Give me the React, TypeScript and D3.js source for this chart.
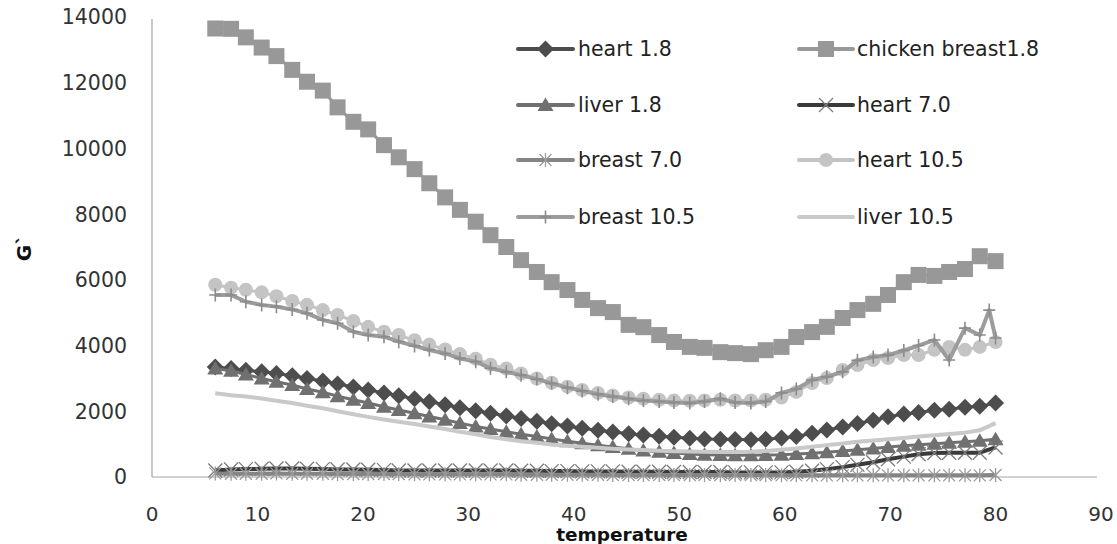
import React from 'react';
import * as d3 from 'd3';

const temperature = [6.0, 7.5, 8.9, 10.4, 11.8, 13.3, 14.7, 16.2, 17.6, 19.1, 20.5, 22.0, 23.4, 24.9, 26.3, 27.8, 29.2, 30.7, 32.1, 33.6, 35.0, 36.5, 37.9, 39.4, 40.8, 42.3, 43.7, 45.2, 46.6, 48.1, 49.5, 51.0, 52.4, 53.9, 55.3, 56.8, 58.2, 59.7, 61.1, 62.6, 64.0, 65.5, 66.9, 68.4, 69.8, 71.3, 72.7, 74.2, 75.6, 77.1, 78.5, 80.0];
const temperatureBreast105 = [6.0, 7.5, 8.9, 10.4, 11.8, 13.3, 14.7, 16.2, 17.6, 19.1, 20.5, 22.0, 23.4, 24.9, 26.3, 27.8, 29.2, 30.7, 32.1, 33.6, 35.0, 36.5, 37.9, 39.4, 40.8, 42.3, 43.7, 45.2, 46.6, 48.1, 49.5, 51.0, 52.4, 53.9, 55.3, 56.8, 58.2, 59.7, 61.1, 62.6, 64.0, 65.5, 66.9, 68.4, 69.8, 71.3, 72.7, 74.2, 75.6, 77.1, 78.5, 79.4, 80.0];

const heart18 = [3350, 3300, 3250, 3200, 3150, 3080, 3000, 2920, 2830, 2740, 2650, 2560, 2470, 2380, 2290, 2200, 2110, 2020, 1940, 1860, 1780, 1700, 1620, 1550, 1480, 1420, 1370, 1320, 1280, 1240, 1210, 1180, 1160, 1150, 1140, 1130, 1150, 1190, 1230, 1330, 1430, 1520, 1630, 1730, 1830, 1920, 1960, 2030, 2060, 2120, 2150, 2250];
const chickenBreast18 = [13650, 13640, 13380, 13070, 12810, 12390, 12030, 11760, 11250, 10810, 10580, 10100, 9730, 9370, 8940, 8510, 8130, 7770, 7360, 7000, 6600, 6240, 5930, 5690, 5390, 5140, 5020, 4630, 4560, 4320, 4110, 3960, 3930, 3800, 3770, 3740, 3860, 3960, 4260, 4410, 4570, 4840, 5080, 5270, 5540, 5930, 6150, 6120, 6240, 6330, 6720, 6570];
const liver18 = [3300, 3230, 3120, 3000, 2900, 2800, 2680, 2580, 2460, 2350, 2250, 2140, 2040, 1940, 1840, 1740, 1640, 1540, 1460, 1380, 1300, 1230, 1160, 1090, 1030, 970, 910, 860, 810, 770, 730, 700, 680, 670, 660, 660, 670, 680, 700, 720, 750, 790, 830, 870, 910, 950, 980, 1010, 1040, 1070, 1100, 1150];
const heart70 = [200, 230, 240, 250, 260, 260, 250, 240, 230, 230, 220, 210, 200, 200, 200, 200, 200, 200, 200, 200, 190, 190, 180, 180, 170, 170, 170, 160, 160, 160, 150, 150, 150, 150, 140, 140, 140, 140, 160, 190, 240, 300, 370, 450, 540, 620, 690, 730, 740, 740, 740, 900];
const breast70 = [110, 100, 100, 100, 110, 100, 100, 100, 90, 90, 90, 90, 90, 80, 80, 80, 80, 80, 80, 80, 70, 70, 70, 70, 70, 70, 60, 60, 60, 60, 60, 60, 60, 60, 60, 60, 60, 50, 50, 50, 50, 50, 50, 50, 50, 50, 50, 50, 50, 50, 50, 60];
const heart105 = [5850, 5760, 5700, 5620, 5500, 5360, 5240, 5080, 4930, 4750, 4570, 4420, 4320, 4160, 4030, 3880, 3740, 3600, 3420, 3300, 3150, 3000, 2870, 2750, 2650, 2560, 2480, 2420, 2380, 2350, 2330, 2320, 2330, 2350, 2330, 2330, 2350, 2420, 2590, 2860, 3010, 3260, 3410, 3560, 3620, 3710, 3710, 3870, 3960, 3870, 3960, 4110];
const breast105 = [5540, 5540, 5335, 5235, 5185, 5100, 4980, 4780, 4680, 4420, 4320, 4270, 4120, 3990, 3865, 3760, 3610, 3510, 3310, 3200, 3100, 2980, 2850, 2720, 2620, 2520, 2450, 2380, 2330, 2300, 2270, 2250, 2300, 2380, 2270, 2250, 2300, 2560, 2680, 2950, 3050, 3200, 3550, 3650, 3710, 3850, 4000, 4170, 3560, 4530, 4320, 5080, 4230];
const liver105 = [2550, 2490, 2450, 2390, 2320, 2250, 2170, 2090, 2000, 1910, 1830, 1750, 1680, 1610, 1540, 1460, 1380, 1300, 1220, 1150, 1090, 1040, 990, 950, 920, 890, 860, 840, 820, 800, 785, 775, 765, 760, 760, 770, 790, 830, 870, 920, 970, 1020, 1070, 1110, 1150, 1190, 1230, 1270, 1310, 1350, 1420, 1640];

const xTicks = [0, 10, 20, 30, 40, 50, 60, 70, 80, 90];
const yTicks = [0, 2000, 4000, 6000, 8000, 10000, 12000, 14000];

type MarkerKind = 'diamond' | 'square' | 'triangle' | 'x' | 'star' | 'circle' | 'plus' | 'none';

interface Series {
  name: string;
  temps: number[];
  values: number[];
  line: string;
  lineWidth: number;
  marker: MarkerKind;
  markerColor: string;
}

const series: Series[] = [
  { name: 'heart 1.8', temps: temperature, values: heart18, line: '#4d4d4d', lineWidth: 3, marker: 'diamond', markerColor: '#4d4d4d' },
  { name: 'chicken breast1.8', temps: temperature, values: chickenBreast18, line: '#989898', lineWidth: 3, marker: 'square', markerColor: '#989898' },
  { name: 'liver 1.8', temps: temperature, values: liver18, line: '#707070', lineWidth: 3, marker: 'triangle', markerColor: '#707070' },
  { name: 'heart 7.0', temps: temperature, values: heart70, line: '#3a3a3a', lineWidth: 4, marker: 'x', markerColor: '#7c7c7c' },
  { name: 'breast 7.0', temps: temperature, values: breast70, line: '#858585', lineWidth: 4, marker: 'star', markerColor: '#9a9a9a' },
  { name: 'heart 10.5', temps: temperature, values: heart105, line: '#c4c4c4', lineWidth: 3, marker: 'circle', markerColor: '#c4c4c4' },
  { name: 'breast 10.5', temps: temperatureBreast105, values: breast105, line: '#9c9c9c', lineWidth: 4, marker: 'plus', markerColor: '#8c8c8c' },
  { name: 'liver 10.5', temps: temperature, values: liver105, line: '#c9c9c9', lineWidth: 4, marker: 'none', markerColor: '#c9c9c9' },
];

const x = d3.scaleLinear().domain([0, 90]).range([152, 1101]);
const y = d3.scaleLinear().domain([0, 14000]).range([477, 17]);

const FONT = 'DejaVu Sans, Verdana, sans-serif';

function Marker({ kind, cx, cy, color }: { kind: MarkerKind; cx: number; cy: number; color: string }) {
  switch (kind) {
    case 'diamond':
      return <path d={`M${cx},${cy - 8.5}L${cx + 8.5},${cy}L${cx},${cy + 8.5}L${cx - 8.5},${cy}Z`} fill={color} />;
    case 'square':
      return <rect x={cx - 8} y={cy - 8} width={16} height={16} fill={color} />;
    case 'triangle':
      return <path d={`M${cx},${cy - 7.5}L${cx + 8},${cy + 6}L${cx - 8},${cy + 6}Z`} fill={color} />;
    case 'circle':
      return <circle cx={cx} cy={cy} r={7} fill={color} />;
    case 'x':
      return (
        <path d={`M${cx - 7},${cy - 7}L${cx + 7},${cy + 7}M${cx - 7},${cy + 7}L${cx + 7},${cy - 7}`} stroke={color} strokeWidth={1.3} fill="none" />
      );
    case 'star':
      return (
        <path d={`M${cx - 6},${cy - 6}L${cx + 6},${cy + 6}M${cx - 6},${cy + 6}L${cx + 6},${cy - 6}M${cx},${cy - 7}L${cx},${cy + 7}`} stroke={color} strokeWidth={1.3} fill="none" />
      );
    case 'plus':
      return (
        <path d={`M${cx},${cy - 6.5}L${cx},${cy + 6.5}M${cx - 6},${cy}L${cx + 6},${cy}`} stroke={color} strokeWidth={1.6} fill="none" />
      );
    default:
      return null;
  }
}

const lineGen = d3
  .line<[number, number]>()
  .x((d) => x(d[0]))
  .y((d) => y(d[1]));

const legendRows = [49, 105, 160, 217];
const legendCols = [
  { x1: 518, x2: 573, tx: 578 },
  { x1: 799, x2: 853, tx: 857 },
];

export default function App() {
  return (
    <div style={{ position: 'absolute', left: 0, top: 0 }}>
      <svg width={1117} height={544} style={{ display: 'block', background: '#ffffff' }}>
        <rect x={0} y={0} width={1117} height={544} fill="#ffffff" />
        {/* axes */}
        <line x1={x(0)} x2={x(0)} y1={y(14000) + 2} y2={y(0)} stroke="#a6a6a6" strokeWidth={1.2} />
        <line x1={x(0)} x2={x(90) - 4} y1={y(0)} y2={y(0)} stroke="#a6a6a6" strokeWidth={1.2} />
        {yTicks.map((t) => (
          <text key={t} x={127} y={y(t)} dy="0.36em" textAnchor="end" fontFamily={FONT} fontSize={20.5} fill="#333">
            {t}
          </text>
        ))}
        {xTicks.map((t) => (
          <text key={t} x={x(t)} y={521} textAnchor="middle" fontFamily={FONT} fontSize={20} fill="#333">
            {t}
          </text>
        ))}
        <text x={622} y={541} textAnchor="middle" fontFamily={FONT} fontSize={18.5} fontWeight="bold" fill="#111">
          temperature
        </text>
        <text transform="translate(31,248) rotate(-90)" textAnchor="middle" fontFamily={FONT} fontSize={20} fontWeight="bold" fill="#111">
          G`
        </text>

        {/* series */}
        {series.map((s) => {
          const pts: [number, number][] = s.temps.map((t, i) => [t, s.values[i]]);
          return (
            <g key={s.name}>
              <path d={lineGen(pts) || ''} fill="none" stroke={s.line} strokeWidth={s.lineWidth} strokeLinejoin="round" />
              {pts.map((p, i) => (
                <Marker key={i} kind={s.marker} cx={x(p[0])} cy={y(p[1])} color={s.markerColor} />
              ))}
            </g>
          );
        })}

        {/* legend */}
        {series.map((s, i) => {
          const col = legendCols[i % 2];
          const ry = legendRows[Math.floor(i / 2)];
          const cx = (col.x1 + col.x2) / 2;
          return (
            <g key={'lg' + s.name}>
              <line x1={col.x1} x2={col.x2} y1={ry} y2={ry} stroke={s.line} strokeWidth={4} strokeLinecap="round" />
              <Marker kind={s.marker} cx={cx} cy={ry} color={s.markerColor} />
              <text x={col.tx} y={ry} dy="0.36em" fontFamily={FONT} fontSize={20.5} fill="#222">
                {s.name}
              </text>
            </g>
          );
        })}
      </svg>
    </div>
  );
}
